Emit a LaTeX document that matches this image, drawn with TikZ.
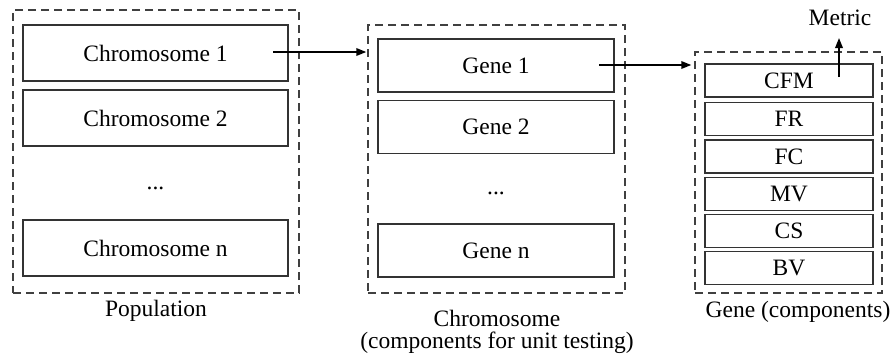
\documentclass[tikz,border=0pt]{standalone}
\usepackage{fontspec}
\setmainfont{Liberation Serif}
\usetikzlibrary{arrows.meta}
\begin{document}
\begin{tikzpicture}[x=1pt,y=-1pt,
  every node/.style={font=\fontsize{23.5}{27}\selectfont, inner sep=0pt},
  solidbox/.style={draw=black!80, line width=1.4pt, rectangle, anchor=center},
  dashbox/.style={draw=black!75, line width=1.4pt, dash pattern=on 8pt off 5pt, rectangle, anchor=center},
  arr/.style={line width=1.8pt, -{Triangle[length=10pt,width=7.5pt]}}]
\useasboundingbox (0,0) rectangle (890,354);
% Population
\node[dashbox, minimum width=286pt, minimum height=283pt] (pop) at (156,151.5) {};
\node[solidbox, minimum width=265pt, minimum height=56pt] (c1) at (155.5,53) {Chromosome 1};
\node[solidbox, minimum width=265pt, minimum height=56pt] (c2) at (155.5,118) {Chromosome 2};
\node (cdots) at (155.5,188) {...};
\node[solidbox, minimum width=265pt, minimum height=56pt] (cn) at (155.5,248) {Chromosome n};
\node (poplab) at (156,311) {Population};
% Chromosome
\node[dashbox, minimum width=257pt, minimum height=268pt] (chr) at (496.5,159) {};
\node[solidbox, minimum width=236pt, minimum height=53pt] (g1) at (496,65.5) {Gene 1};
\node[solidbox, minimum width=236pt, minimum height=53pt] (g2) at (496,127) {Gene 2};
\node (gdots) at (496,193) {...};
\node[solidbox, minimum width=236pt, minimum height=53pt] (gn) at (496,250.5) {Gene n};
\node[align=center, font=\fontsize{23.5}{22.5}\selectfont] (chrlab) at (497,332) {Chromosome\\(components for unit testing)};
% Gene
\node[dashbox, minimum width=187pt, minimum height=241pt] (gene) at (788.5,172.5) {};
\node[solidbox, minimum width=168pt, minimum height=33pt] (cfm) at (789,80.5) {CFM};
\node[solidbox, minimum width=168pt, minimum height=33pt] (fr) at (789,119) {FR};
\node[solidbox, minimum width=168pt, minimum height=33pt] (fc) at (789,156.5) {FC};
\node[solidbox, minimum width=168pt, minimum height=33pt] (mv) at (789,194) {MV};
\node[solidbox, minimum width=168pt, minimum height=33pt] (cs) at (789,231) {CS};
\node[solidbox, minimum width=168pt, minimum height=33pt] (bv) at (789,268) {BV};
\node (genelab) at (798,312) {Gene (components)};
\node (metric) at (840,18) {Metric};
% arrows
\coordinate (a1) at (273,52);
\coordinate (a2) at (599,65);
\coordinate (a3) at (839,77);
\draw[arr] (a1) -- ([xshift=-1pt]chr.west |- a1);
\draw[arr] (a2) -- ([xshift=-3pt]gene.west |- a2);
\draw[arr] (a3) -- (839,38) coordinate (a3e);
\end{tikzpicture}
\end{document}
